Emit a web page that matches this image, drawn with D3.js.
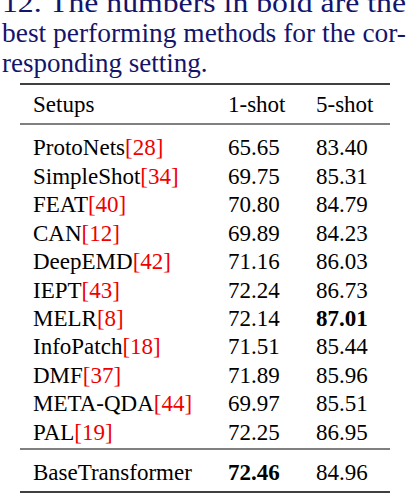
<!DOCTYPE html>
<html><head><meta charset="utf-8">
<script src="https://cdn.jsdelivr.net/npm/d3@7"></script>
<style>body{margin:0;background:#fff}</style>
</head><body><div id="chart"></div>
<script>
const methods = ["ProtoNets","SimpleShot","FEAT","CAN","DeepEMD","IEPT","MELR","InfoPatch","DMF","META-QDA","PAL"];
const refs = ["28","34","40","12","42","43","8","18","37","44","19"];
const oneShot = [65.65,69.75,70.80,69.89,71.16,72.24,72.14,71.51,71.89,69.97,72.25];
const fiveShot = [83.40,85.31,84.79,84.23,86.03,86.73,87.01,85.44,85.96,85.51,86.95];
const ours = {name:"BaseTransformer", one:72.46, five:84.96};
const captionLines = ["12.   The numbers in bold are the","best performing methods for the cor-","responding setting."];

const W = 408, H = 496;
const svg = d3.select("#chart").append("svg").attr("width", W).attr("height", H)
  .style("font-family", "'Liberation Serif', 'Times New Roman', serif");

// caption
svg.selectAll(".cap").data(captionLines).enter().append("text")
  .attr("x", 2).attr("y", (d, i) => 12 + i * 30)
  .attr("textLength", (d, i) => i < 2 ? 404 : null)
  .attr("lengthAdjust", "spacingAndGlyphs")
  .attr("fill", "#14146b").style("font-size", "27px").text(d => d);

const x0 = 20, x1 = 390;
const colX = {name: 33, one: 228, five: 316};
const y = d3.scaleBand().domain(d3.range(methods.length)).range([133, 446]);

const rule = (yy, w) => svg.append("line").attr("x1", x0).attr("x2", x1)
  .attr("y1", yy).attr("y2", yy).attr("stroke", "#000").attr("stroke-width", w);
rule(84, 1.6); rule(124, 1); rule(449, 1); rule(492, 1.6);

const fs = "23px";
const fmt = d3.format(".2f");
const hdr = svg.append("g").style("font-size", fs);
[["Setups", colX.name], ["1-shot", colX.one], ["5-shot", colX.five]].forEach(([t, xx]) =>
  hdr.append("text").attr("x", xx).attr("y", 112).text(t));

const rows = svg.selectAll(".row").data(methods).enter().append("g")
  .attr("transform", (d, i) => `translate(0,${y(i) + y.bandwidth() / 2 + 8})`)
  .style("font-size", fs);
const nm = rows.append("text").attr("x", colX.name);
nm.append("tspan").text(d => d);
nm.append("tspan").attr("fill", "#e00").text((d, i) => "[" + refs[i] + "]");
const best1 = d3.max(oneShot.concat([ours.one])), best5 = d3.max(fiveShot.concat([ours.five]));
rows.append("text").attr("x", colX.one).text((d, i) => fmt(oneShot[i]))
  .style("font-weight", (d, i) => oneShot[i] === best1 ? "bold" : null);
rows.append("text").attr("x", colX.five).text((d, i) => fmt(fiveShot[i]))
  .style("font-weight", (d, i) => fiveShot[i] === best5 ? "bold" : null);

const last = svg.append("g").attr("transform", "translate(0,480)").style("font-size", fs);
last.append("text").attr("x", colX.name).text(ours.name);
last.append("text").attr("x", colX.one).text(fmt(ours.one)).style("font-weight", ours.one === best1 ? "bold" : null);
last.append("text").attr("x", colX.five).text(fmt(ours.five)).style("font-weight", ours.five === best5 ? "bold" : null);
</script></body></html>
